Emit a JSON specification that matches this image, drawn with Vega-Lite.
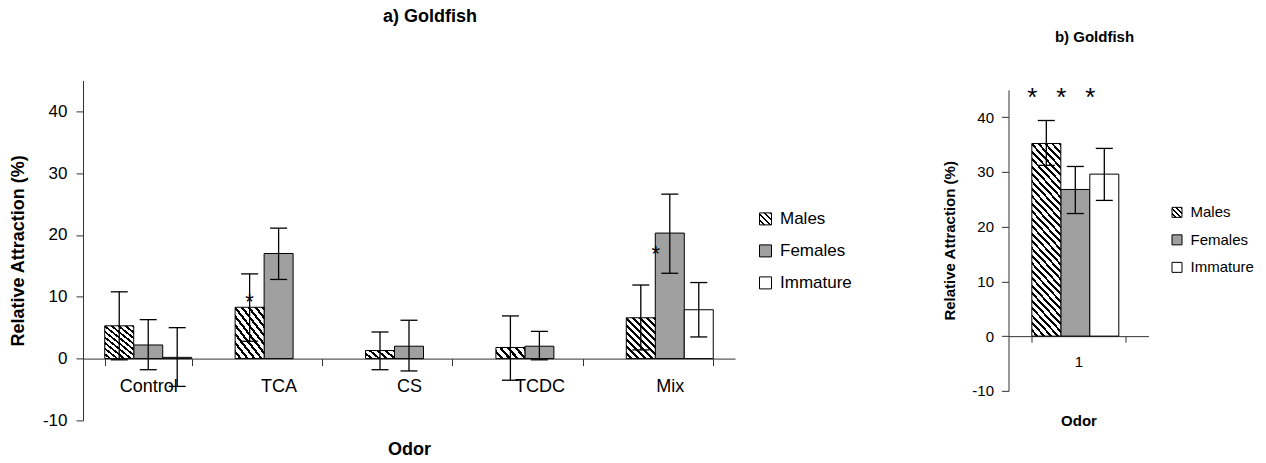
{
  "$schema": "https://vega.github.io/schema/vega-lite/v6.json",
  "background": "white",
  "padding": {"left": 9, "top": 8, "right": 0, "bottom": 0},
  "config": {
    "font": "Liberation Sans",
    "view": {"stroke": null},
    "axis": {"grid": false, "domainColor": "#333", "tickColor": "#333", "labelColor": "#000", "titleColor": "#000", "domainWidth": 1, "tickWidth": 1},
    "legend": {"labelColor": "#000"}
  },
  "datasets": {
    "a": [
      {"odor": "Control", "sex": "Males", "value": 5.3, "lo": -0.2, "hi": 10.8},
      {"odor": "Control", "sex": "Females", "value": 2.2, "lo": -1.8, "hi": 6.3},
      {"odor": "Control", "sex": "Immature", "value": 0.2, "lo": -4.5, "hi": 5.0},
      {"odor": "TCA", "sex": "Males", "value": 8.3, "lo": 2.8, "hi": 13.7},
      {"odor": "TCA", "sex": "Females", "value": 17.0, "lo": 12.8, "hi": 21.1},
      {"odor": "CS", "sex": "Males", "value": 1.3, "lo": -1.8, "hi": 4.3},
      {"odor": "CS", "sex": "Females", "value": 2.0, "lo": -2.0, "hi": 6.2},
      {"odor": "TCDC", "sex": "Males", "value": 1.8, "lo": -3.5, "hi": 6.9},
      {"odor": "TCDC", "sex": "Females", "value": 2.0, "lo": -0.2, "hi": 4.4},
      {"odor": "Mix", "sex": "Males", "value": 6.6, "lo": 1.4, "hi": 11.9},
      {"odor": "Mix", "sex": "Females", "value": 20.3, "lo": 13.8, "hi": 26.6},
      {"odor": "Mix", "sex": "Immature", "value": 7.9, "lo": 3.5, "hi": 12.3}
    ],
    "b": [
      {"odor": "1", "sex": "Males", "value": 35.2, "lo": 31.2, "hi": 39.4},
      {"odor": "1", "sex": "Females", "value": 26.8, "lo": 22.4, "hi": 31.0},
      {"odor": "1", "sex": "Immature", "value": 29.6, "lo": 24.8, "hi": 34.3}
    ],
    "stars_a": [
      {"odor": "TCA", "sex": "Males", "mark": "*", "at": 8.0},
      {"odor": "Mix", "sex": "Females", "mark": "*", "at": 15.8}
    ],
    "stars_b": [
      {"odor": "1", "sex": "Males", "mark": "*", "at": 42},
      {"odor": "1", "sex": "Females", "mark": "*", "at": 42},
      {"odor": "1", "sex": "Immature", "mark": "*", "at": 42}
    ]
  },
  "hconcat": [
    {
      "width": 652,
      "height": 340,
      "title": {"text": "a) Goldfish", "fontSize": 18, "fontWeight": "bold", "offset": 54, "dx": 21},
      "data": {"name": "a"},
      "encoding": {
        "x": {"field": "odor", "type": "nominal", "title": "Odor",
          "scale": {"domain": ["Control", "TCA", "CS", "TCDC", "Mix"], "paddingInner": 0.333, "paddingOuter": 0.1667},
          "axis": {"labelAngle": 0, "labelFontSize": 18, "titleFontSize": 18, "titleFontWeight": "bold", "tickBand": "extent", "tickSize": 7, "labelPadding": 12, "titlePadding": 45, "offset": -61.8}},
        "xOffset": {"field": "sex", "type": "nominal", "scale": {"domain": ["Males", "Females", "Immature"], "paddingInner": 0, "paddingOuter": 0}}
      },
      "layer": [
        {
          "transform": [{"filter": "datum.sex !== 'Males'"}],
          "mark": {"type": "bar", "stroke": "black", "strokeWidth": 1},
          "encoding": {
            "y": {"field": "value", "type": "quantitative", "title": "Relative Attraction (%)",
              "scale": {"domain": [-10, 45], "nice": false, "zero": false},
              "axis": {"values": [-10, 0, 10, 20, 30, 40], "labelExpr": "datum.value < 0 ? '-' + abs(datum.value) : '' + datum.value", "labelFontSize": 17, "titleFontSize": 18, "titleFontWeight": "bold", "tickSize": 7, "labelPadding": 9, "titlePadding": 15}},
            "y2": {"datum": 0},
            "fill": {"field": "sex", "type": "nominal",
              "scale": {"domain": ["Males", "Females", "Immature"],
                "range": [
                  {"signal": "{gradient: 'linear', x1: 0, y1: 1, x2: 1, y2: 0, stops: [{offset: 0, color: 'white'}, {offset: 0.15, color: 'white'}, {offset: 0.15, color: 'black'}, {offset: 0.25, color: 'black'}, {offset: 0.25, color: 'white'}, {offset: 0.4, color: 'white'}, {offset: 0.4, color: 'black'}, {offset: 0.5, color: 'black'}, {offset: 0.5, color: 'white'}, {offset: 0.65, color: 'white'}, {offset: 0.65, color: 'black'}, {offset: 0.75, color: 'black'}, {offset: 0.75, color: 'white'}, {offset: 0.9, color: 'white'}, {offset: 0.9, color: 'black'}, {offset: 1, color: 'black'}]}"},
                  "#a0a0a0", "white"]},
              "legend": {"title": null, "orient": "none", "legendX": 674, "legendY": 130, "symbolType": "square", "symbolSize": 144, "symbolStrokeWidth": 1, "labelFontSize": 17, "rowPadding": 14, "labelOffset": 6, "padding": 0}}
          }
        },
        {
          "transform": [{"filter": "datum.sex === 'Males' && (datum.odor === 'Control' || datum.odor === 'TCA' || datum.odor === 'Mix')"}],
          "mark": {"type": "bar", "stroke": "black", "strokeWidth": 1,
            "fill": {"gradient": "linear", "x1": 0, "y1": 1, "x2": 0.81, "y2": -0.134, "stops": [
              {"offset": 0, "color": "white"}, {"offset": 0.06, "color": "white"}, {"offset": 0.06, "color": "black"}, {"offset": 0.1, "color": "black"},
              {"offset": 0.1, "color": "white"}, {"offset": 0.16, "color": "white"}, {"offset": 0.16, "color": "black"}, {"offset": 0.2, "color": "black"},
              {"offset": 0.2, "color": "white"}, {"offset": 0.26, "color": "white"}, {"offset": 0.26, "color": "black"}, {"offset": 0.3, "color": "black"},
              {"offset": 0.3, "color": "white"}, {"offset": 0.36, "color": "white"}, {"offset": 0.36, "color": "black"}, {"offset": 0.4, "color": "black"},
              {"offset": 0.4, "color": "white"}, {"offset": 0.46, "color": "white"}, {"offset": 0.46, "color": "black"}, {"offset": 0.5, "color": "black"},
              {"offset": 0.5, "color": "white"}, {"offset": 0.56, "color": "white"}, {"offset": 0.56, "color": "black"}, {"offset": 0.6, "color": "black"},
              {"offset": 0.6, "color": "white"}, {"offset": 0.66, "color": "white"}, {"offset": 0.66, "color": "black"}, {"offset": 0.7, "color": "black"},
              {"offset": 0.7, "color": "white"}, {"offset": 0.76, "color": "white"}, {"offset": 0.76, "color": "black"}, {"offset": 0.8, "color": "black"},
              {"offset": 0.8, "color": "white"}, {"offset": 0.86, "color": "white"}, {"offset": 0.86, "color": "black"}, {"offset": 0.9, "color": "black"},
              {"offset": 0.9, "color": "white"}, {"offset": 0.96, "color": "white"}, {"offset": 0.96, "color": "black"}, {"offset": 1, "color": "black"}]}},
          "encoding": {
            "y": {"field": "value", "type": "quantitative", "title": "Relative Attraction (%)"},
            "y2": {"datum": 0}
          }
        },
        {
          "transform": [{"filter": "datum.sex === 'Males' && (datum.odor === 'CS' || datum.odor === 'TCDC')"}],
          "mark": {"type": "bar", "stroke": "black", "strokeWidth": 1,
            "fill": {"gradient": "linear", "x1": 0, "y1": 1, "x2": 1.2, "y2": 0.6, "stops": [
              {"offset": 0, "color": "white"}, {"offset": 0.12, "color": "white"}, {"offset": 0.12, "color": "black"}, {"offset": 0.2, "color": "black"},
              {"offset": 0.2, "color": "white"}, {"offset": 0.32, "color": "white"}, {"offset": 0.32, "color": "black"}, {"offset": 0.4, "color": "black"},
              {"offset": 0.4, "color": "white"}, {"offset": 0.52, "color": "white"}, {"offset": 0.52, "color": "black"}, {"offset": 0.6, "color": "black"},
              {"offset": 0.6, "color": "white"}, {"offset": 0.72, "color": "white"}, {"offset": 0.72, "color": "black"}, {"offset": 0.8, "color": "black"},
              {"offset": 0.8, "color": "white"}, {"offset": 0.92, "color": "white"}, {"offset": 0.92, "color": "black"}, {"offset": 1, "color": "black"}]}},
          "encoding": {
            "y": {"field": "value", "type": "quantitative", "title": "Relative Attraction (%)"},
            "y2": {"datum": 0}
          }
        },
        {
          "mark": {"type": "rule", "color": "black", "strokeWidth": 1.3},
          "encoding": {
            "y": {"field": "lo", "type": "quantitative", "title": "Relative Attraction (%)"},
            "y2": {"field": "hi"}
          }
        },
        {
          "mark": {"type": "tick", "color": "black", "size": 17, "thickness": 1.3, "opacity": 1},
          "encoding": {"y": {"field": "lo", "type": "quantitative", "title": "Relative Attraction (%)"}}
        },
        {
          "mark": {"type": "tick", "color": "black", "size": 17, "thickness": 1.3, "opacity": 1},
          "encoding": {"y": {"field": "hi", "type": "quantitative", "title": "Relative Attraction (%)"}}
        },
        {
          "data": {"name": "stars_a"},
          "transform": [{"filter": "datum.odor === 'TCA'"}],
          "mark": {"type": "text", "fontSize": 22, "baseline": "alphabetic", "align": "center", "color": "black"},
          "encoding": {
            "y": {"field": "at", "type": "quantitative", "title": "Relative Attraction (%)"},
            "text": {"field": "mark"}
          }
        },
        {
          "data": {"name": "stars_a"},
          "transform": [{"filter": "datum.odor === 'Mix'"}],
          "mark": {"type": "text", "fontSize": 22, "baseline": "alphabetic", "align": "center", "color": "black", "dx": -14},
          "encoding": {
            "y": {"field": "at", "type": "quantitative", "title": "Relative Attraction (%)"},
            "text": {"field": "mark"}
          }
        }
      ]
    },
    {
      "width": 140,
      "height": 301,
      "title": {"text": "b) Goldfish", "fontSize": 15, "fontWeight": "bold", "offset": 40, "dx": 16},
      "data": {"name": "b"},
      "encoding": {
        "x": {"field": "odor", "type": "nominal", "title": ["Odor", " "],
          "scale": {"domain": ["1"], "paddingInner": 0.333, "paddingOuter": 0.1667},
          "axis": {"labelAngle": 0, "labelFontSize": 15, "titleFontSize": 15, "titleFontWeight": "bold", "titleLineHeight": 21, "tickBand": "extent", "tickSize": 6, "labelPadding": 12, "titlePadding": 44, "offset": -54.7}},
        "xOffset": {"field": "sex", "type": "nominal", "scale": {"domain": ["Males", "Females", "Immature"], "paddingInner": 0, "paddingOuter": 0}}
      },
      "layer": [
        {
          "transform": [{"filter": "datum.sex !== 'Males'"}],
          "mark": {"type": "bar", "stroke": "black", "strokeWidth": 1},
          "encoding": {
            "y": {"field": "value", "type": "quantitative", "title": "Relative Attraction (%)",
              "scale": {"domain": [-10, 45], "nice": false, "zero": false},
              "axis": {"values": [-10, 0, 10, 20, 30, 40], "labelExpr": "datum.value < 0 ? '-' + abs(datum.value) : '' + datum.value", "labelFontSize": 15, "titleFontSize": 15, "titleFontWeight": "bold", "tickSize": 7, "labelPadding": 8, "titlePadding": 14.5}},
            "y2": {"datum": 0},
            "fill": {"field": "sex", "type": "nominal",
              "scale": {"domain": ["Males", "Females", "Immature"],
                "range": [
                  {"signal": "{gradient: 'linear', x1: 0, y1: 1, x2: 1, y2: 0, stops: [{offset: 0, color: 'white'}, {offset: 0.15, color: 'white'}, {offset: 0.15, color: 'black'}, {offset: 0.25, color: 'black'}, {offset: 0.25, color: 'white'}, {offset: 0.4, color: 'white'}, {offset: 0.4, color: 'black'}, {offset: 0.5, color: 'black'}, {offset: 0.5, color: 'white'}, {offset: 0.65, color: 'white'}, {offset: 0.65, color: 'black'}, {offset: 0.75, color: 'black'}, {offset: 0.75, color: 'white'}, {offset: 0.9, color: 'white'}, {offset: 0.9, color: 'black'}, {offset: 1, color: 'black'}]}"},
                  "#a0a0a0", "white"]},
              "legend": {"title": null, "orient": "none", "legendX": 161, "legendY": 115, "symbolType": "square", "symbolSize": 100, "symbolStrokeWidth": 1, "labelFontSize": 15, "rowPadding": 11.5, "labelOffset": 6, "padding": 0}}
          }
        },
        {
          "transform": [{"filter": "datum.sex === 'Males'"}],
          "mark": {"type": "bar", "stroke": "black", "strokeWidth": 1,
            "fill": {"gradient": "linear", "x1": 0, "y1": 1, "x2": 0.183, "y2": -0.13, "stops": [
              {"offset": 0, "color": "white"}, {"offset": 0.02, "color": "white"}, {"offset": 0.02, "color": "black"}, {"offset": 0.0333, "color": "black"},
              {"offset": 0.0333, "color": "white"}, {"offset": 0.0533, "color": "white"}, {"offset": 0.0533, "color": "black"}, {"offset": 0.0667, "color": "black"},
              {"offset": 0.0667, "color": "white"}, {"offset": 0.0867, "color": "white"}, {"offset": 0.0867, "color": "black"}, {"offset": 0.1, "color": "black"},
              {"offset": 0.1, "color": "white"}, {"offset": 0.12, "color": "white"}, {"offset": 0.12, "color": "black"}, {"offset": 0.1333, "color": "black"},
              {"offset": 0.1333, "color": "white"}, {"offset": 0.1533, "color": "white"}, {"offset": 0.1533, "color": "black"}, {"offset": 0.1667, "color": "black"},
              {"offset": 0.1667, "color": "white"}, {"offset": 0.1867, "color": "white"}, {"offset": 0.1867, "color": "black"}, {"offset": 0.2, "color": "black"},
              {"offset": 0.2, "color": "white"}, {"offset": 0.22, "color": "white"}, {"offset": 0.22, "color": "black"}, {"offset": 0.2333, "color": "black"},
              {"offset": 0.2333, "color": "white"}, {"offset": 0.2533, "color": "white"}, {"offset": 0.2533, "color": "black"}, {"offset": 0.2667, "color": "black"},
              {"offset": 0.2667, "color": "white"}, {"offset": 0.2867, "color": "white"}, {"offset": 0.2867, "color": "black"}, {"offset": 0.3, "color": "black"},
              {"offset": 0.3, "color": "white"}, {"offset": 0.32, "color": "white"}, {"offset": 0.32, "color": "black"}, {"offset": 0.3333, "color": "black"},
              {"offset": 0.3333, "color": "white"}, {"offset": 0.3533, "color": "white"}, {"offset": 0.3533, "color": "black"}, {"offset": 0.3667, "color": "black"},
              {"offset": 0.3667, "color": "white"}, {"offset": 0.3867, "color": "white"}, {"offset": 0.3867, "color": "black"}, {"offset": 0.4, "color": "black"},
              {"offset": 0.4, "color": "white"}, {"offset": 0.42, "color": "white"}, {"offset": 0.42, "color": "black"}, {"offset": 0.4333, "color": "black"},
              {"offset": 0.4333, "color": "white"}, {"offset": 0.4533, "color": "white"}, {"offset": 0.4533, "color": "black"}, {"offset": 0.4667, "color": "black"},
              {"offset": 0.4667, "color": "white"}, {"offset": 0.4867, "color": "white"}, {"offset": 0.4867, "color": "black"}, {"offset": 0.5, "color": "black"},
              {"offset": 0.5, "color": "white"}, {"offset": 0.52, "color": "white"}, {"offset": 0.52, "color": "black"}, {"offset": 0.5333, "color": "black"},
              {"offset": 0.5333, "color": "white"}, {"offset": 0.5533, "color": "white"}, {"offset": 0.5533, "color": "black"}, {"offset": 0.5667, "color": "black"},
              {"offset": 0.5667, "color": "white"}, {"offset": 0.5867, "color": "white"}, {"offset": 0.5867, "color": "black"}, {"offset": 0.6, "color": "black"},
              {"offset": 0.6, "color": "white"}, {"offset": 0.62, "color": "white"}, {"offset": 0.62, "color": "black"}, {"offset": 0.6333, "color": "black"},
              {"offset": 0.6333, "color": "white"}, {"offset": 0.6533, "color": "white"}, {"offset": 0.6533, "color": "black"}, {"offset": 0.6667, "color": "black"},
              {"offset": 0.6667, "color": "white"}, {"offset": 0.6867, "color": "white"}, {"offset": 0.6867, "color": "black"}, {"offset": 0.7, "color": "black"},
              {"offset": 0.7, "color": "white"}, {"offset": 0.72, "color": "white"}, {"offset": 0.72, "color": "black"}, {"offset": 0.7333, "color": "black"},
              {"offset": 0.7333, "color": "white"}, {"offset": 0.7533, "color": "white"}, {"offset": 0.7533, "color": "black"}, {"offset": 0.7667, "color": "black"},
              {"offset": 0.7667, "color": "white"}, {"offset": 0.7867, "color": "white"}, {"offset": 0.7867, "color": "black"}, {"offset": 0.8, "color": "black"},
              {"offset": 0.8, "color": "white"}, {"offset": 0.82, "color": "white"}, {"offset": 0.82, "color": "black"}, {"offset": 0.8333, "color": "black"},
              {"offset": 0.8333, "color": "white"}, {"offset": 0.8533, "color": "white"}, {"offset": 0.8533, "color": "black"}, {"offset": 0.8667, "color": "black"},
              {"offset": 0.8667, "color": "white"}, {"offset": 0.8867, "color": "white"}, {"offset": 0.8867, "color": "black"}, {"offset": 0.9, "color": "black"},
              {"offset": 0.9, "color": "white"}, {"offset": 0.92, "color": "white"}, {"offset": 0.92, "color": "black"}, {"offset": 0.9333, "color": "black"},
              {"offset": 0.9333, "color": "white"}, {"offset": 0.9533, "color": "white"}, {"offset": 0.9533, "color": "black"}, {"offset": 0.9667, "color": "black"},
              {"offset": 0.9667, "color": "white"}, {"offset": 0.9867, "color": "white"}, {"offset": 0.9867, "color": "black"}, {"offset": 1, "color": "black"}]}},
          "encoding": {
            "y": {"field": "value", "type": "quantitative", "title": "Relative Attraction (%)"},
            "y2": {"datum": 0}
          }
        },
        {
          "mark": {"type": "rule", "color": "black", "strokeWidth": 1.3},
          "encoding": {
            "y": {"field": "lo", "type": "quantitative", "title": "Relative Attraction (%)"},
            "y2": {"field": "hi"}
          }
        },
        {
          "mark": {"type": "tick", "color": "black", "size": 17, "thickness": 1.3, "opacity": 1},
          "encoding": {"y": {"field": "lo", "type": "quantitative", "title": "Relative Attraction (%)"}}
        },
        {
          "mark": {"type": "tick", "color": "black", "size": 17, "thickness": 1.3, "opacity": 1},
          "encoding": {"y": {"field": "hi", "type": "quantitative", "title": "Relative Attraction (%)"}}
        },
        {
          "data": {"name": "stars_b"},
          "mark": {"type": "text", "fontSize": 26, "baseline": "alphabetic", "align": "center", "color": "black", "dx": -14},
          "encoding": {
            "y": {"field": "at", "type": "quantitative", "title": "Relative Attraction (%)"},
            "text": {"field": "mark"}
          }
        }
      ]
    }
  ],
  "spacing": 89.5,
  "center": true,
  "resolve": {"scale": {"fill": "independent"}, "legend": {"fill": "independent"}}
}
